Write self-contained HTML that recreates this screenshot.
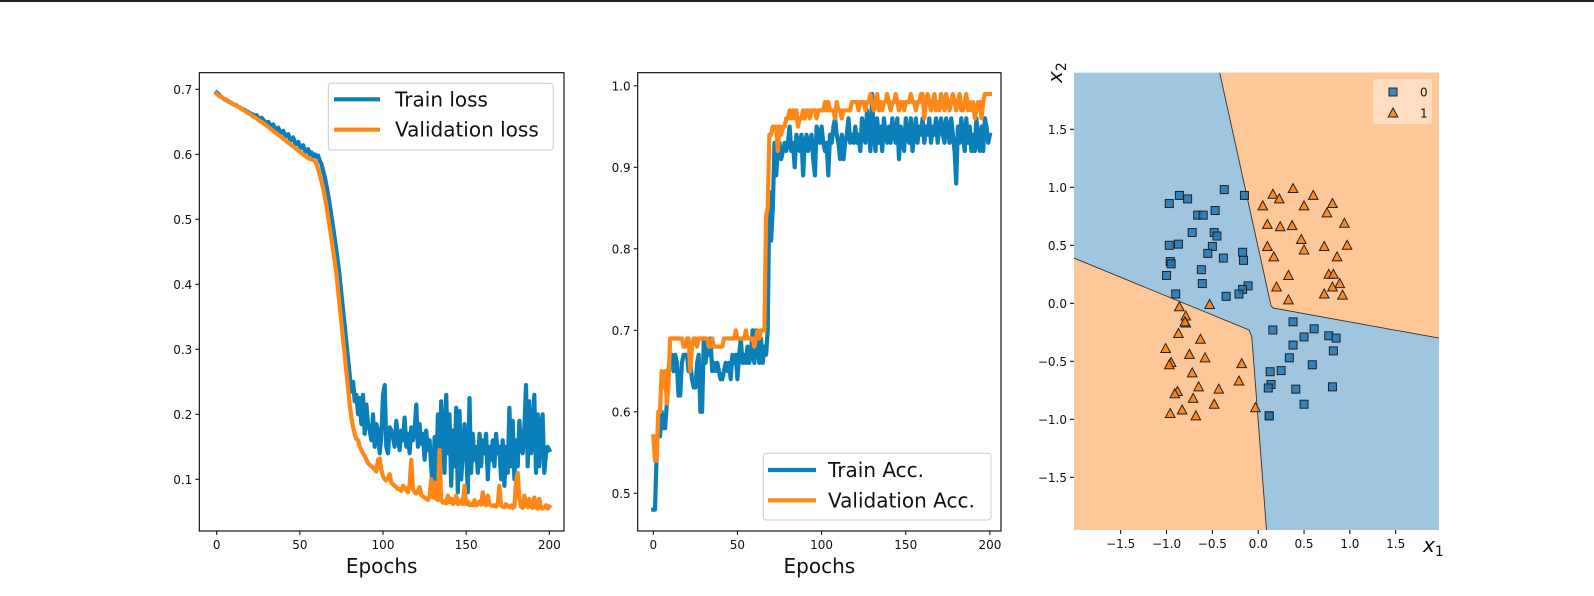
<!DOCTYPE html>
<html><head><meta charset="utf-8"><style>
html,body{margin:0;padding:0;background:#fff;}
svg{display:block;font-family:"DejaVu Sans","Liberation Sans",sans-serif;}
</style></head><body>
<svg id="fig" width="1594" height="596" viewBox="0 0 1594 596" xmlns="http://www.w3.org/2000/svg">
<rect x="0" y="0" width="1594" height="596" fill="#fff"/>
<rect x="0" y="0" width="1594" height="2" fill="#222"/>
<g id="p1"></g>
<g id="p2"></g>
<g id="p3"></g>
</svg>
<script>
const epochs = Array.from({length:201},(_, i)=>i);
const trainLoss = [.695,.693,.690,.688,.686,.684,.683,.681,.680,.679,
.677,.676,.675,.673,.672,.670,.669,.668,.666,.665,
.663,.662,.661,.659,.660,.656,.655,.656,.653,.650,
.648,.650,.645,.643,.646,.640,.638,.641,.635,.633,
.636,.630,.628,.631,.624,.622,.626,.618,.616,.619,
.612,.610,.614,.606,.604,.608,.600,.603,.597,.600,
.596,.598,.590,.585,.575,.565,.552,.538,.522,.505,
.488,.470,.452,.432,.410,.385,.360,.335,.310,.285,
.260,.235,.250,.220,.230,.200,.225,.185,.230,.170,
.215,.185,.175,.160,.200,.150,.185,.175,.140,.165,
.230,.245,.150,.140,.180,.175,.165,.150,.190,.165,
.145,.175,.160,.195,.150,.170,.140,.180,.160,.175,
.215,.150,.185,.155,.170,.130,.175,.145,.160,.120,
.080,.165,.100,.200,.090,.220,.165,.110,.230,.140,
.200,.090,.175,.120,.210,.080,.205,.100,.140,.185,
.150,.080,.225,.110,.170,.130,.150,.110,.170,.120,
.160,.140,.170,.100,.150,.130,.160,.120,.170,.140,
.150,.100,.160,.090,.150,.110,.210,.120,.190,.100,
.160,.120,.190,.150,.140,.180,.245,.120,.220,.140,
.160,.230,.110,.200,.120,.180,.200,.110,.140,.150,.145];
const valLoss = [.693,.691,.689,.688,.686,.685,.683,.682,.680,.679,
.677,.676,.674,.673,.671,.670,.668,.667,.665,.663,
.662,.660,.658,.657,.655,.653,.651,.650,.648,.646,
.644,.642,.640,.638,.636,.634,.632,.630,.628,.626,
.624,.622,.620,.618,.616,.614,.612,.610,.608,.606,
.604,.602,.600,.598,.596,.594,.593,.592,.591,.590,
.585,.578,.568,.558,.548,.535,.520,.503,.487,.470,
.452,.435,.417,.390,.365,.340,.314,.290,.265,.240,
.215,.195,.180,.170,.162,.160,.150,.145,.140,.136,
.130,.125,.122,.120,.118,.115,.112,.130,.132,.115,
.105,.100,.098,.102,.108,.095,.092,.090,.088,.085,
.085,.082,.090,.088,.083,.080,.092,.130,.085,.080,
.078,.082,.088,.076,.074,.072,.070,.068,.075,.100,
.072,.095,.070,.068,.145,.068,.064,.066,.063,.075,
.065,.070,.062,.064,.075,.062,.063,.068,.062,.090,
.062,.066,.060,.062,.060,.068,.060,.062,.066,.061,
.080,.062,.060,.075,.062,.060,.059,.060,.058,.061,
.090,.060,.058,.057,.062,.058,.057,.060,.056,.058,
.095,.110,.070,.058,.056,.075,.060,.057,.070,.058,
.056,.072,.057,.055,.070,.056,.055,.057,.060,.055,.058];
const trainAcc = [.48,.48,.55,.59,.57,.60,.58,.58,.61,.65,
.67,.67,.65,.67,.66,.62,.62,.66,.67,.67,
.67,.65,.66,.64,.63,.63,.66,.67,.60,.60,
.69,.66,.68,.67,.69,.65,.66,.65,.66,.65,
.64,.64,.65,.66,.65,.66,.64,.67,.66,.67,
.64,.67,.69,.66,.67,.66,.68,.66,.67,.70,
.66,.70,.68,.66,.69,.66,.68,.67,.70,.87,
.81,.85,.93,.89,.92,.93,.91,.92,.93,.92,
.93,.95,.92,.93,.90,.94,.93,.92,.94,.89,
.93,.94,.92,.93,.94,.91,.89,.95,.94,.93,
.95,.93,.92,.93,.89,.94,.93,.95,.96,.94,
.93,.91,.94,.91,.93,.94,.96,.93,.94,.93,
.95,.93,.94,.92,.96,.94,.93,.97,.95,.92,
.99,.94,.92,.96,.93,.95,.92,.96,.94,.93,
.95,.93,.96,.94,.93,.96,.91,.95,.94,.92,
.96,.94,.93,.96,.92,.94,.96,.93,.95,.94,
.96,.93,.95,.94,.96,.93,.95,.94,.96,.93,
.95,.96,.94,.93,.96,.95,.93,.96,.94,.92,
.88,.95,.93,.96,.94,.92,.96,.93,.95,.92,
.94,.92,.96,.93,.92,.95,.92,.96,.95,.93,.94];
const valAcc = [.57,.54,.54,.60,.60,.65,.63,.65,.61,.63,
.69,.69,.69,.69,.69,.69,.69,.69,.68,.68,
.69,.69,.65,.68,.69,.69,.68,.69,.69,.69,
.69,.69,.69,.68,.68,.69,.68,.68,.68,.68,
.68,.68,.69,.69,.69,.69,.69,.69,.69,.70,
.69,.69,.69,.69,.69,.70,.69,.69,.69,.69,
.68,.69,.70,.69,.70,.70,.70,.84,.85,.94,
.94,.95,.95,.95,.92,.95,.94,.95,.95,.96,
.96,.97,.96,.97,.96,.97,.95,.96,.96,.97,
.96,.97,.97,.96,.97,.97,.97,.96,.97,.97,
.97,.97,.98,.97,.98,.97,.97,.97,.96,.98,
.97,.97,.96,.97,.97,.97,.97,.97,.98,.98,
.98,.98,.97,.98,.98,.98,.97,.98,.98,.99,
.98,.97,.98,.99,.97,.98,.97,.98,.98,.99,
.98,.97,.98,.98,.99,.98,.97,.98,.98,.97,
.98,.98,.98,.99,.98,.98,.97,.98,.98,.99,
.99,.96,.98,.99,.98,.97,.98,.99,.97,.98,
.97,.99,.98,.97,.99,.98,.97,.98,.99,.98,
.97,.98,.99,.97,.97,.98,.99,.97,.98,.97,
.98,.96,.97,.98,.98,.96,.98,.99,.99,.99,.99];
const epochTicks = [0,50,100,150,200];
const lossTicks = [0.1,0.2,0.3,0.4,0.5,0.6,0.7];
const accTicks = [0.5,0.6,0.7,0.8,0.9,1.0];
const class0X = [-0.97,-0.86,-0.77,-0.37,-0.15,-0.47,-0.66,-0.60,-0.72,-0.48,-0.45,-0.97,-0.87,-0.50,-0.55,-0.17,-0.16,-0.38,-0.96,-0.95,-0.62,-1.00,-0.61,-0.11,-0.17,-0.21,-0.35,-0.90,
0.16,0.38,0.61,0.50,0.77,0.85,0.38,0.82,0.34,0.59,0.25,0.13,0.14,0.11,0.41,0.81,0.50,0.12,0.12];
const class0Y = [0.86,0.93,0.90,0.98,0.93,0.80,0.76,0.76,0.61,0.61,0.58,0.50,0.51,0.49,0.43,0.44,0.37,0.39,0.36,0.34,0.29,0.24,0.17,0.15,0.12,0.08,0.06,0.08,
-0.23,-0.16,-0.22,-0.29,-0.28,-0.30,-0.36,-0.41,-0.47,-0.53,-0.58,-0.59,-0.70,-0.73,-0.74,-0.72,-0.87,-0.97,-0.97];
const class1X = [0.05,0.16,0.23,0.38,0.50,0.60,0.81,0.75,0.94,0.10,0.24,0.37,0.47,0.50,0.10,0.17,0.72,0.97,0.86,0.33,0.77,0.82,0.89,0.81,0.20,0.72,0.92,0.33,
-0.86,-0.53,-0.79,-0.79,-0.80,-0.87,-0.63,-1.01,-0.75,-0.58,-0.95,-0.97,-0.72,-0.18,-0.21,-0.65,-0.43,-0.88,-0.91,-0.71,-0.48,-0.03,-0.96,-0.83,-0.68];
const class1Y = [0.84,0.94,0.90,0.99,0.84,0.93,0.86,0.78,0.69,0.68,0.66,0.67,0.55,0.46,0.49,0.40,0.49,0.50,0.40,0.24,0.25,0.25,0.17,0.14,0.14,0.08,0.07,0.03,
-0.03,-0.01,-0.11,-0.17,-0.16,-0.26,-0.31,-0.39,-0.44,-0.47,-0.51,-0.53,-0.60,-0.52,-0.67,-0.72,-0.74,-0.76,-0.78,-0.82,-0.87,-0.90,-0.95,-0.92,-0.97];
const regionTopRight = [[-0.42,2.0],[0.14,-0.02],[0.16,-0.04],[2.0,-0.30],[2.0,2.0]];
const regionBottomLeft = [[-2.02,0.39],[-0.10,-0.23],[-0.07,-0.29],[0.09,-1.96],[-2.02,-1.96]];
const x3Ticks = [-1.5,-1.0,-0.5,0.0,0.5,1.0,1.5];
const y3Ticks = [-1.5,-1.0,-0.5,0.0,0.5,1.0,1.5];

const NS="http://www.w3.org/2000/svg";
function mk(parent,tag,attrs){const e=document.createElementNS(NS,tag);for(const k in attrs)e.setAttribute(k,attrs[k]);parent.appendChild(e);return e;}
function txt(parent,x,y,s,size,anchor){const t=mk(parent,'text',{x:x,y:y,'font-size':size,'text-anchor':anchor||'middle',fill:'#111'});t.textContent=s;return t;}
const BLUE='#0b7fba', ORANGE='#fe8817';

function lineChart(g, xs, series, ticksY, sx, sy, box, fmtY){
  mk(g,'rect',{x:box[0],y:box[1],width:box[2]-box[0],height:box[3]-box[1],fill:'#fff'});
  series.forEach(s=>{
    const p=mk(g,'polyline',{points:xs.map((e,i)=>sx(e).toFixed(1)+','+sy(s.v[i]).toFixed(1)).join(' '),fill:'none',stroke:s.c,'stroke-width':4.2,'stroke-linejoin':'round','stroke-linecap':'square'});
    
    
  });
  mk(g,'rect',{x:box[0],y:box[1],width:box[2]-box[0],height:box[3]-box[1],fill:'none',stroke:'#000','stroke-width':1.1});
  epochTicks.forEach(t=>{const x=sx(t);mk(g,'line',{x1:x,x2:x,y1:box[3],y2:box[3]+4,stroke:'#000'});
    const l=txt(g,x,box[3]+18,String(t),12);
    
    });
  ticksY.forEach(t=>{const y=sy(t);mk(g,'line',{x1:box[0]-4,x2:box[0],y1:y,y2:y,stroke:'#000'});
    const l=txt(g,box[0]-7,y+4.5,t.toFixed(1),12,'end');
    
    });
  const xl=txt(g,(box[0]+box[2])/2,box[3]+42,'Epochs',20);
  
  
}
function legend(g,x0,y0,x1,y1,items,lx0,lx1,tx,ys){
  const r=mk(g,'rect',{x:x0,y:y0,width:x1-x0,height:y1-y0,rx:3,fill:'#fff','fill-opacity':0.8,stroke:'#ccc'});
  
  
  items.forEach((it,i)=>{
    mk(g,'line',{x1:lx0,x2:lx1,y1:ys[i],y2:ys[i],stroke:it.c,'stroke-width':4.2});
    const t=txt(g,tx,ys[i]+7,it.t,20,'start');
    
    
  });
}
// Plot 1
const p1=document.getElementById('p1');
const sx1=e=>216.7+e*1.663, sy1=v=>479.3-(v-0.1)*650;
lineChart(p1,epochs,[{v:trainLoss,c:BLUE,name:'train-loss-line'},{v:valLoss,c:ORANGE,name:'validation-loss-line'}],lossTicks,sx1,sy1,[199.3,72.7,564,531]);
legend(p1,328.3,83.3,553.3,150,[{t:'Train loss',c:BLUE},{t:'Validation loss',c:ORANGE}],334,380,395,[99.3,129.7]);
// Plot 2
const p2=document.getElementById('p2');
const sx2=e=>653.3+e*1.683, sy2=v=>493.3-(v-0.5)*815;
lineChart(p2,epochs,[{v:trainAcc,c:BLUE,name:'train-acc-line'},{v:valAcc,c:ORANGE,name:'validation-acc-line'}],accTicks,sx2,sy2,[637.7,72.7,1001,531]);
legend(p2,763.3,453.3,991,520,[{t:'Train Acc.',c:BLUE},{t:'Validation Acc.',c:ORANGE}],768,816,828,[470,500.3]);
// Plot 3
const p3=document.getElementById('p3');
const sx3=x=>1258.2+x*91.67, sy3=y=>303.3-y*116;
const L=1074,R=1439,T=72.7,B=530;
const bg=mk(p3,'rect',{x:L,y:T,width:R-L,height:B-T,fill:'#9fc5df'});


[regionTopRight,regionBottomLeft].forEach((poly,i)=>{
  const pts=poly.map(p=>Math.min(R,Math.max(L,sx3(p[0]))).toFixed(1)+','+Math.min(B,Math.max(T,sy3(p[1]))).toFixed(1)).join(' ');
  const pg=mk(p3,'polygon',{points:pts,fill:'#fec797'});
  
  
  const edge=poly.slice(0, i===0?4:4);
  mk(p3,'polyline',{points:edge.map(p=>Math.min(R,Math.max(L,sx3(p[0]))).toFixed(1)+','+Math.min(B,Math.max(T,sy3(p[1]))).toFixed(1)).join(' '),fill:'none',stroke:'#333','stroke-width':0.9});
});
class0X.forEach((x,i)=>{
  const s=mk(p3,'rect',{x:sx3(x)-4,y:sy3(class0Y[i])-4,width:8,height:8,fill:'#1f77b4','fill-opacity':0.85,stroke:'#222','stroke-width':1});
  
  
});
class1X.forEach((x,i)=>{
  const cx=sx3(x), cy=sy3(class1Y[i]);
  const t=mk(p3,'polygon',{points:`${cx},${cy-5} ${cx+4.8},${cy+4} ${cx-4.8},${cy+4}`,fill:'#ff7f0e','fill-opacity':0.85,stroke:'#222','stroke-width':1});
  
  
});
x3Ticks.forEach(t=>{const x=sx3(t);mk(p3,'line',{x1:x,x2:x,y1:B,y2:B+4,stroke:'#000'});
  const l=txt(p3,x,B+18,(t<0?'\u2212':'')+Math.abs(t).toFixed(1),12);
  
  });
y3Ticks.forEach(t=>{const y=sy3(t);mk(p3,'line',{x1:L-4,x2:L,y1:y,y2:y,stroke:'#000'});
  const l=txt(p3,L-7,y+4.5,(t<0?'\u2212':'')+Math.abs(t).toFixed(1),12,'end');
  
  });
const lg=mk(p3,'rect',{x:1373,y:79,width:59,height:45,rx:3,fill:'#fff','fill-opacity':0.4});


mk(p3,'rect',{x:1389,y:88,width:8,height:8,fill:'#1f77b4','fill-opacity':0.85,stroke:'#222'});
mk(p3,'polygon',{points:'1393,108 1397.8,117 1388.2,117',fill:'#ff7f0e','fill-opacity':0.85,stroke:'#222'});
const l0=txt(p3,1420,96.5,'0',12,'start');


const l1=txt(p3,1420,117.5,'1',12,'start');


const xt=mk(p3,'text',{x:1423,y:552,'font-size':20,'font-style':'italic',fill:'#111'});
xt.innerHTML='x<tspan font-size="14" dy="4" font-style="normal">1</tspan>';


const yt=mk(p3,'text',{x:0,y:0,'font-size':20,'font-style':'italic',fill:'#111',transform:'translate(1062,83) rotate(-90)'});
yt.innerHTML='x<tspan font-size="14" dy="4" font-style="normal">2</tspan>';


</script>
</body></html>
